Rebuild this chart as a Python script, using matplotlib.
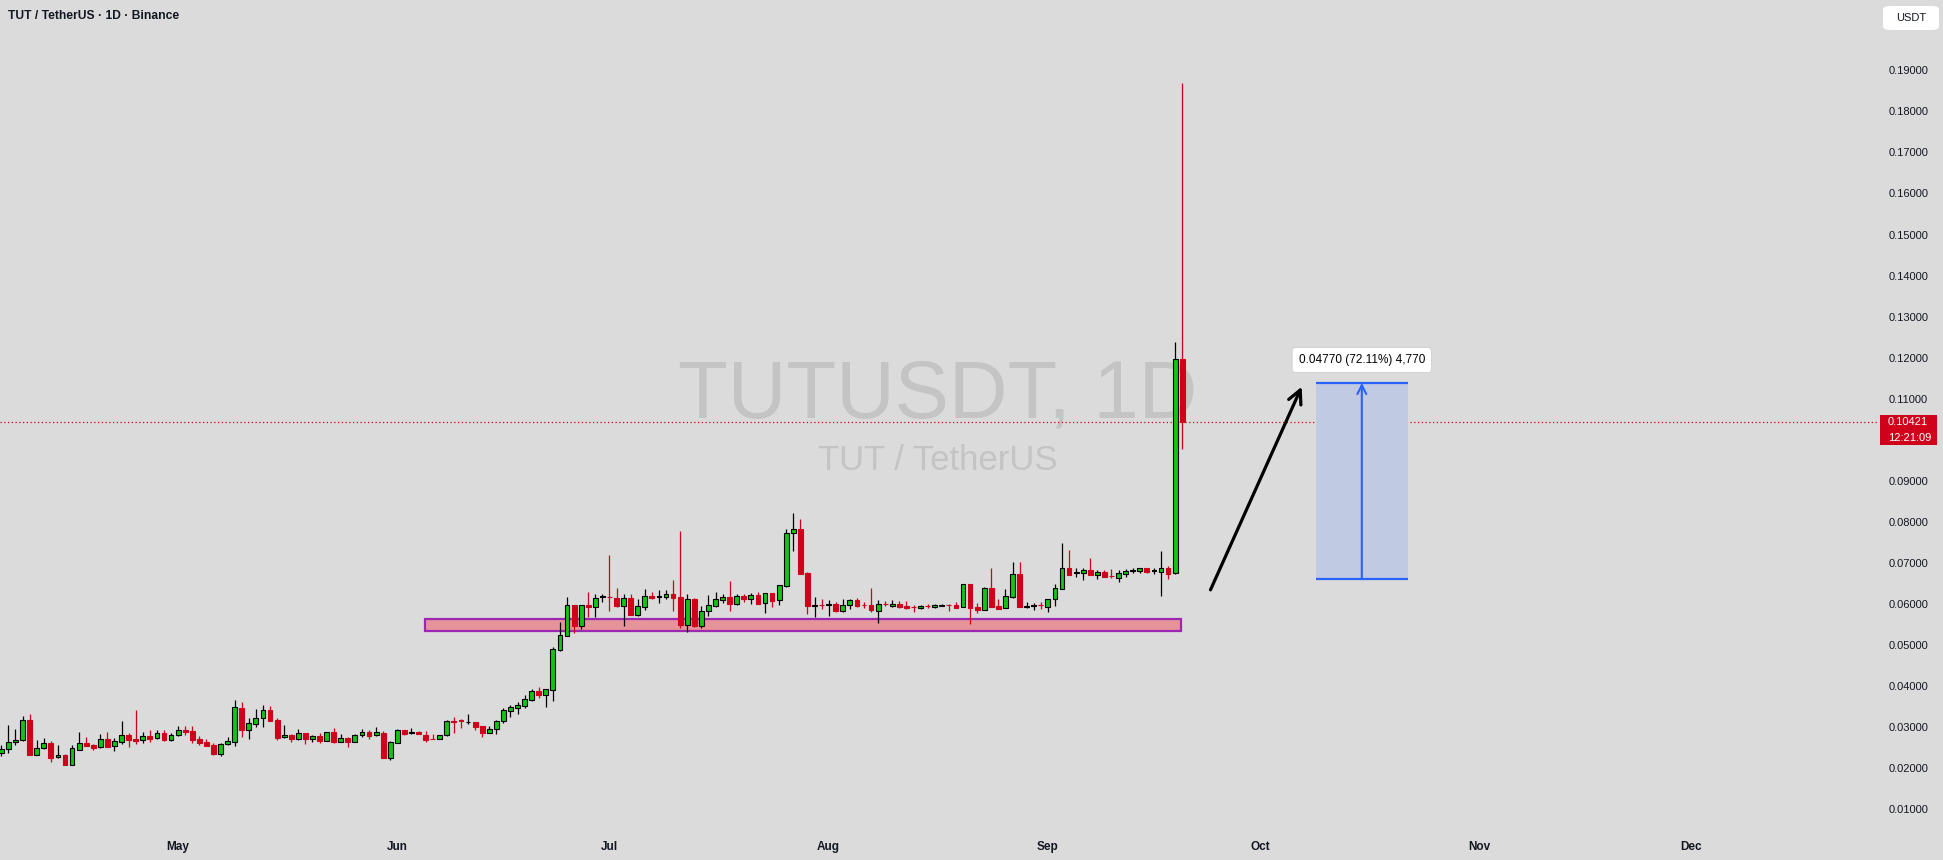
import matplotlib
matplotlib.use("Agg")
import matplotlib.pyplot as plt
import matplotlib.dates as mdates
import matplotlib.transforms as mtransforms
from matplotlib.patches import Rectangle, FancyBboxPatch
import pandas as pd

plt.rcParams["font.family"] = ["Liberation Sans", "DejaVu Sans"]

# daily candles, 2025-04-06 .. 2025-09-20
start_date = "2025-04-06"
opens = [
    .02356, .02453, .02624, .02673, .03160, .02323, .02478, .02608, .02258, .02307,
    .02080, .02445, .02608, .02551, .02502, .02697, .02526, .02640, .02803, .02705,
    .02673, .02778, .02721, .02851, .02689, .02794, .02925, .02900, .02705, .02632,
    .02559, .02348, .02575, .02640, .03461, .02933, .03079, .03209, .03412, .03168,
    .02746, .02794, .02713, .02843, .02713, .02778, .02664, .02868, .02640, .02721,
    .02640, .02794, .02868, .02794, .02851, .02250, .02600, .02916, .02862, .02876,
    .02794, .02700, .02697, .02794, .03136, .03155, .03108, .03111, .03014, .02859,
    .02941, .03151, .03395, .03468, .03517, .03663, .03874, .03785, .03907, .04882,
    .05223, .05962, .05467, .05962, .05930, .06160, .06160, .06133, .05954, .06133,
    .05735, .05930, .06190, .06175, .06173, .06230, .06165, .05491, .06117, .05467,
    .05816, .05954, .06100, .06165, .06003, .06190, .06125, .06206, .06011, .06255,
    .06084, .06441, .07717, .07814, .06742, .05958, .05966, .05982, .05986, .05832,
    .05962, .06084, .05966, .05962, .05832, .05990, .05954, .05986, .05938, .05917,
    .05905, .05942, .05913, .05958, .05966, .05962, .05930, .06474, .05930, .05840,
    .06376, .05946, .05889, .06173, .06718, .05934, .05950, .05966, .05930, .06108,
    .06368, .06864, .06746, .06742, .06815, .06710, .06766, .06673, .06637, .06734,
    .06803, .06807, .06864, .06803, .06783, .06864, .06742, .11970,
]
highs = [
    .02559, .03046, .02941, .03266, .03314, .02681, .02721, .02656, .02559, .02340,
    .02559, .02876, .02754, .02575, .02827, .02876, .02721, .03144, .02859, .03412,
    .02876, .02925, .02925, .02925, .02843, .03022, .03022, .03022, .02778, .02697,
    .02600, .02616, .02746, .03656, .03607, .03217, .03436, .03534, .03509, .03217,
    .03046, .02827, .02941, .02843, .02811, .02843, .02884, .02973, .02827, .02746,
    .02827, .02949, .02925, .02998, .02900, .02656, .02941, .02916, .02981, .02900,
    .02900, .02827, .02794, .03168, .03249, .03184, .03314, .03111, .03014, .03022,
    .03168, .03460, .03533, .03606, .03777, .03923, .03972, .03915, .04947, .05556,
    .06165, .05962, .05962, .06287, .06238, .06238, .07189, .06385, .06238, .06238,
    .06117, .06360, .06287, .06336, .06336, .06580, .07774, .06238, .06141, .05938,
    .06214, .06287, .06238, .06555, .06238, .06238, .06263, .06287, .06255, .06255,
    .06450, .07823, .08212, .08066, .06775, .06165, .06117, .06092, .06035, .06117,
    .06117, .06141, .06035, .06385, .06092, .06060, .06092, .06060, .06060, .05962,
    .05962, .05986, .05986, .05986, .05986, .06035, .06474, .06474, .06011, .06401,
    .06872, .06117, .06360, .07018, .07018, .06035, .06011, .06035, .06108, .06474,
    .07481, .07311, .06864, .06864, .07116, .06815, .06815, .06848, .06815, .06848,
    .06864, .06864, .06864, .06864, .07286, .06921, .12390, .18690,
]
lows = [
    .02291, .02372, .02551, .02656, .02323, .02323, .02453, .02153, .02250, .02080,
    .02080, .02445, .02543, .02445, .02478, .02518, .02421, .02591, .02518, .02591,
    .02616, .02632, .02705, .02664, .02664, .02786, .02811, .02616, .02567, .02543,
    .02315, .02291, .02551, .02543, .02762, .02713, .03006, .03006, .03152, .02681,
    .02738, .02632, .02681, .02591, .02640, .02616, .02656, .02600, .02632, .02518,
    .02632, .02746, .02713, .02786, .02250, .02201, .02600, .02794, .02827, .02819,
    .02632, .02697, .02697, .02786, .02859, .02981, .03079, .02933, .02762, .02859,
    .02827, .03103, .03241, .03322, .03468, .03631, .03712, .03493, .03639, .04857,
    .05223, .05296, .05393, .05678, .05678, .06043, .05832, .05930, .05467, .05735,
    .05710, .05857, .06117, .06019, .06125, .05832, .05418, .05320, .05442, .05418,
    .05710, .05930, .06019, .05832, .05978, .06051, .06003, .06003, .05783, .05930,
    .05978, .06417, .07294, .06734, .05759, .05686, .05881, .05710, .05808, .05808,
    .05881, .05930, .05905, .05808, .05540, .05938, .05930, .05905, .05873, .05808,
    .05881, .05905, .05905, .05938, .05832, .05905, .05930, .05507, .05783, .05840,
    .05930, .05881, .05889, .06149, .05930, .05889, .05857, .05881, .05808, .05954,
    .06368, .06710, .06653, .06588, .06710, .06612, .06645, .06637, .06539, .06661,
    .06742, .06758, .06758, .06734, .06198, .06612, .06730, .09770,
]
closes = [
    .02461, .02632, .02673, .03160, .02323, .02478, .02600, .02250, .02307, .02080,
    .02478, .02608, .02543, .02494, .02697, .02518, .02656, .02803, .02689, .02664,
    .02770, .02713, .02851, .02681, .02794, .02916, .02884, .02681, .02608, .02543,
    .02340, .02583, .02656, .03485, .02933, .03087, .03209, .03412, .03152, .02738,
    .02794, .02713, .02851, .02713, .02778, .02664, .02868, .02640, .02721, .02640,
    .02794, .02868, .02786, .02868, .02250, .02624, .02916, .02835, .02868, .02819,
    .02689, .02697, .02794, .03136, .03130, .03150, .03111, .03006, .02859, .02941,
    .03136, .03411, .03484, .03533, .03679, .03874, .03777, .03915, .04890, .05231,
    .05962, .05467, .05962, .05930, .06133, .06165, .06157, .05954, .06133, .05735,
    .05938, .06181, .06141, .06181, .06230, .06149, .05491, .06108, .05467, .05816,
    .05962, .06108, .06165, .06003, .06181, .06117, .06206, .06003, .06255, .06076,
    .06450, .07717, .07814, .06734, .05954, .05962, .05962, .05986, .05824, .05962,
    .06084, .05954, .05962, .05857, .05986, .05986, .05986, .05930, .05905, .05913,
    .05938, .05938, .05962, .05962, .05962, .05905, .06474, .05905, .05857, .06376,
    .05930, .05881, .06181, .06718, .05930, .05938, .05954, .05962, .06108, .06376,
    .06864, .06710, .06750, .06815, .06710, .06766, .06661, .06669, .06742, .06791,
    .06807, .06864, .06775, .06807, .06864, .06734, .11970, .10421,
]

last_price = 0.10421
countdown = "12:21:09"
price_ticks = [0.01, 0.02, 0.03, 0.04, 0.05, 0.06, 0.07, 0.08, 0.09, 0.10,
               0.11, 0.12, 0.13, 0.14, 0.15, 0.16, 0.17, 0.18, 0.19]
month_starts = ["2025-05-01", "2025-06-01", "2025-07-01", "2025-08-01",
                "2025-09-01", "2025-10-01", "2025-11-01", "2025-12-01"]
month_labels = ["May", "Jun", "Jul", "Aug", "Sep", "Oct", "Nov", "Dec"]

# support zone and projected move
zone_bottom, zone_top = 0.0534, 0.0563
zone_days = (34.9, 141.8)           # days after May 1
target_base, target_move = 0.06615, 0.04770
target_days = (160.9, 173.9)
arrow_from = (146.0, 0.0634)
arrow_to = (158.9, 0.1129)

BG = "#dbdbdb"
GREEN = "#14c314"
RED = "#d0011b"
TEXT = "#131722"
W, H = 1943, 860

fig = plt.figure(figsize=(W / 100, H / 100), dpi=100, facecolor=BG)
ax = fig.add_axes([0, 30 / H, 1878 / W, 830 / H], facecolor=BG)

may1 = mdates.date2num(pd.Timestamp("2025-05-01"))
dates = pd.date_range(start_date, periods=len(opens), freq="D")
x = mdates.date2num(dates)

for xi, o, h, l, c in zip(x, opens, highs, lows, closes):
    up = c >= o
    wick = "black" if up else RED
    ax.vlines(xi, l, h, color=wick, linewidth=0.9, zorder=3)
    body = max(abs(c - o), 0.00018)
    ax.bar(xi, body, bottom=min(o, c), width=0.68,
           color=GREEN if up else RED,
           edgecolor="black" if up else RED, linewidth=0.8, zorder=4)

ax.set_xlim(may1 - 25.19, may1 + 240.4)
ax.set_ylim(0.00487, 0.20716)

# watermark
ax.text(0.4995, 0.4964, "TUTUSDT, 1D", transform=ax.transAxes, ha="center",
        va="baseline", fontsize=58.5, color="#c4c4c4", zorder=0)
ax.text(0.4995, 0.4337, "TUT / TetherUS", transform=ax.transAxes, ha="center",
        va="baseline", fontsize=25, color="#c4c4c4", zorder=0)

# support zone
ax.add_patch(Rectangle((may1 + zone_days[0], zone_bottom),
                       zone_days[1] - zone_days[0], zone_top - zone_bottom,
                       facecolor="#e7939a", edgecolor="#9c27b0", linewidth=1.6,
                       zorder=2))

# projection box
t0, t1 = may1 + target_days[0], may1 + target_days[1]
target_top = target_base + target_move
ax.add_patch(Rectangle((t0, target_base), t1 - t0, target_move,
                       facecolor="#c1cae3", edgecolor="none", zorder=2))
ax.hlines([target_base, target_top], t0, t1, color="#2962ff", linewidth=1.6,
          zorder=3)
tm = (t0 + t1) / 2
ax.annotate("", xy=(tm, target_top), xytext=(tm, target_base),
            arrowprops=dict(arrowstyle="->", color="#2962ff", lw=1.5,
                            mutation_scale=16, shrinkA=0, shrinkB=0), zorder=3)
ax.text(tm, 0.1194, "0.04770 (72.11%) 4,770", ha="center", va="center",
        fontsize=8.5, color="black", zorder=6,
        bbox=dict(boxstyle="round,pad=0.55,rounding_size=0.3", fc="white",
                  ec="#c8c8c8", lw=0.5))

# black arrow
ax.annotate("", xy=(may1 + arrow_to[0], arrow_to[1]),
            xytext=(may1 + arrow_from[0], arrow_from[1]),
            arrowprops=dict(arrowstyle="->", color="black", lw=2.3,
                            mutation_scale=24, shrinkA=0, shrinkB=0), zorder=5)

# last price line
ax.axhline(last_price, color=RED, linestyle=(0, (1, 2)), linewidth=0.9, zorder=1)

# axes styling
for s in ax.spines.values():
    s.set_visible(False)
ax.yaxis.tick_right()
ax.set_yticks(price_ticks)
ax.set_yticklabels([f"{v:.5f}" for v in price_ticks])
ax.tick_params(axis="y", length=0, pad=7.5, labelsize=8, labelcolor=TEXT)
ax.set_xticks(mdates.date2num(pd.to_datetime(month_starts)))
ax.set_xticklabels(month_labels)
ax.tick_params(axis="x", length=0, pad=8, labelsize=8.5, labelcolor=TEXT)
for lab in ax.get_xticklabels():
    lab.set_fontweight("bold")

# price tag on the scale
blend = mtransforms.blended_transform_factory(fig.transFigure, ax.transData)
ax.add_patch(Rectangle((1880 / W, 0.09870), 57 / W, 0.00731, transform=blend,
                       facecolor=RED, edgecolor="none", clip_on=False, zorder=7))
ax.text(1888 / W, last_price, f"{last_price:.5f}", transform=blend, ha="left",
        va="center", fontsize=8, color="white", clip_on=False, zorder=8)
ax.text(1888 / W, 0.10049, countdown, transform=blend, ha="left",
        va="center", fontsize=8, color="white", clip_on=False, zorder=8)

# currency box
fig.patches.append(FancyBboxPatch((1883 / W, 1 - 30 / H), 56 / W, 24 / H,
                                  boxstyle="round,pad=0,rounding_size=0.004",
                                  transform=fig.transFigure, facecolor="white",
                                  edgecolor="none"))
fig.text(1911 / W, 1 - 18 / H, "USDT", ha="center", va="center", fontsize=8,
         color=TEXT)

# header
fig.text(8 / W, 1 - 16 / H, "TUT / TetherUS \u00b7 1D \u00b7 Binance", ha="left",
         va="center", fontsize=8.7, fontweight="bold", color=TEXT)

fig.savefig("out.png", dpi=100, facecolor=BG)
